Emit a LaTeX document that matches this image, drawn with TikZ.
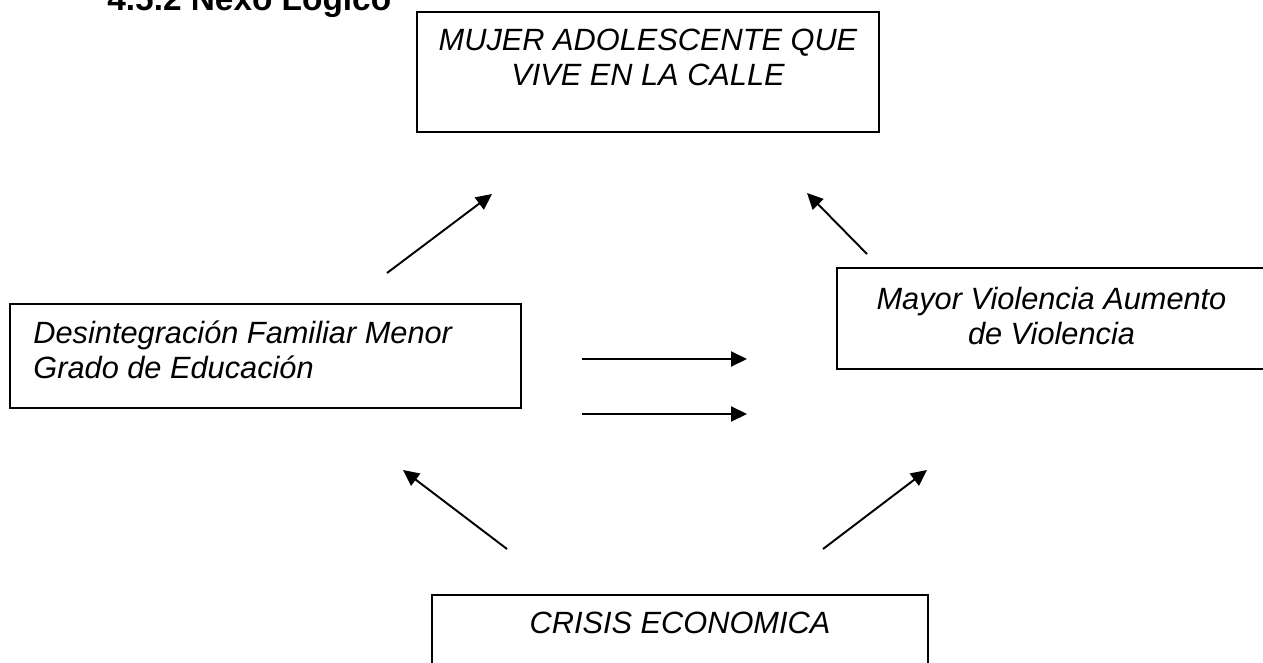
\documentclass[tikz,border=0pt]{standalone}
\usepackage{fontspec}
\setmainfont{Liberation Sans}
\usetikzlibrary{positioning,arrows.meta}
\tikzset{
  caja/.style={draw, line width=1.1pt, inner sep=0pt},
  texto/.style={inner sep=0pt, font=\fontsize{17.5}{20}\selectfont\itshape},
  flecha/.style={line width=1.1pt, -{Triangle[length=0.32cm,width=0.3cm]}}
}
\begin{document}
\begin{tikzpicture}[x=0.02cm,y=-0.02cm]
    \useasboundingbox (0,0) rectangle (1263,662);
    \clip (0,0) rectangle (1263,662);
    \node[anchor=base west, inner sep=0pt, font=\fontsize{19}{22}\selectfont\bfseries] (titulo) at (107,11) {4.5.2 Nexo Lógico};
    % cajas
    \node[caja, minimum width=9.24cm, minimum height=2.4cm] (mujer) at (648,72) {};
    \node[caja, minimum width=10.22cm, minimum height=2.08cm] (desint) at (265.5,356) {};
    \node[caja, minimum width=8.58cm, minimum height=2.02cm] (violencia) at (1051.5,318.5) {};
    \node[caja, minimum width=9.92cm, minimum height=2.1cm] (crisis) at (680,647.5) {};
    % textos
    \node[texto, align=center, below=0.36cm of mujer.north] (tmujer) {MUJER ADOLESCENTE QUE\\VIVE EN LA CALLE};
    \node[texto, align=left, below right=0.34cm and 0.48cm of desint.north west] (tdesint) {Desintegración Familiar Menor\\Grado de Educación};
    \node[texto, align=center, below=0.4cm of violencia.north] (tviolencia) {Mayor Violencia Aumento\\de Violencia};
    \node[texto, below=0.36cm of crisis.north] (tcrisis) {CRISIS ECONOMICA};
    % flechas
    \coordinate (d1) at (387,273); \coordinate (m1) at (492,194);
    \coordinate (v1) at (867,254); \coordinate (m2) at (807,193);
    \coordinate (h1) at (582,359); \coordinate (h1f) at (747,359);
    \coordinate (h2) at (582,414); \coordinate (h2f) at (747,414);
    \coordinate (c1) at (507,549); \coordinate (d2) at (403,470);
    \coordinate (c2) at (823,549); \coordinate (v2) at (927,470);
    \draw[flecha] (d1) -- (m1);
    \draw[flecha] (v1) -- (m2);
    \draw[flecha] (h1) -- (h1f);
    \draw[flecha] (h2) -- (h2f);
    \draw[flecha] (c1) -- (d2);
    \draw[flecha] (c2) -- (v2);
\end{tikzpicture}
\end{document}
